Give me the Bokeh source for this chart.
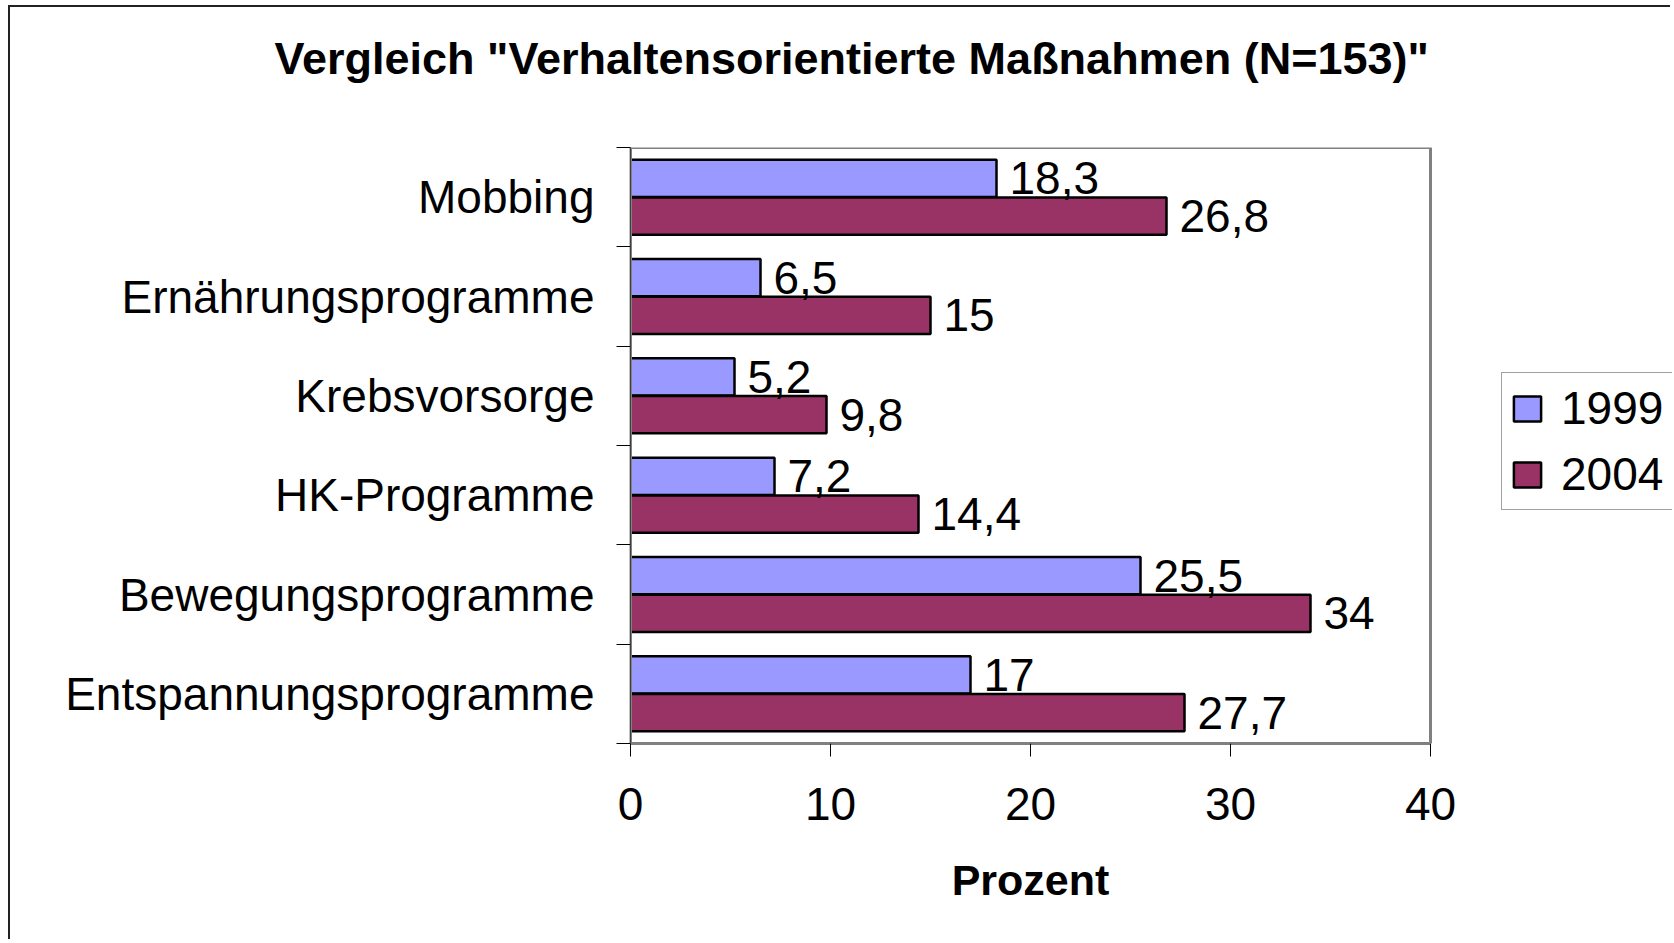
from bokeh.plotting import figure
from bokeh.models import (ColumnDataSource, Range1d, FixedTicker, LabelSet, Legend, LegendItem,
                          LinearAxis, BoxAnnotation)
from bokeh.core.properties import value
from bokeh.transform import dodge
from bokeh.embed import file_html
from bokeh.resources import INLINE

categories = ["Mobbing", "Ernährungsprogramme", "Krebsvorsorge", "HK-Programme",
              "Bewegungsprogramme", "Entspannungsprogramme"]
values_1999 = [18.3, 6.5, 5.2, 7.2, 25.5, 17]
values_2004 = [26.8, 15, 9.8, 14.4, 34, 27.7]
series_names = ["1999", "2004"]
x_ticks = [0, 10, 20, 30, 40]
x_title = "Prozent"

FONT = "Liberation Sans"
FS = "46px"
C1999 = "#9999FF"
C2004 = "#993366"

X_MAX = 40
PLOT_W = 800          # pixel width of the 0..40 plot area
W, H = 1662, 934
LEFT = 620
frame_w = W - LEFT
x_end = X_MAX * frame_w / PLOT_W   # frame extends to the right edge for the legend

pos = [i + 0.5 for i in range(len(categories))]
fmt = lambda v: f"{v:g}".replace(".", ",")
src = ColumnDataSource(dict(
    pos=pos, cat=categories,
    v1999=values_1999, v2004=values_2004,
    l1999=[fmt(v) for v in values_1999],
    l2004=[fmt(v) for v in values_2004],
))

p = figure(width=W, height=H, output_backend="svg", toolbar_location=None,
           x_range=Range1d(0, x_end), y_range=Range1d(len(categories), 0),
           min_border_left=LEFT, min_border_right=0, min_border_top=140,
           min_border_bottom=198)
p.styles = {"border-top": "2px solid #222", "border-left": "2px solid #222",
            "margin-left": "8px", "margin-top": "5px"}
p.background_fill_color = "white"
p.border_fill_color = "white"
p.outline_line_color = None
p.grid.visible = False

xa = p.xaxis[0]
ya = p.yaxis[0]

# grey plot-area box (0..40 x all categories)
p.add_layout(BoxAnnotation(left=0, right=X_MAX, top=0, bottom=len(categories),
                           fill_color=None, fill_alpha=0, line_color="#808080",
                           line_alpha=1, line_width=3))

# Title
p.title.text = 'Vergleich "Verhaltensorientierte Maßnahmen (N=153)"'
p.title.text_font = FONT
p.title.text_font_size = "45px"
p.title.text_font_style = "bold"
p.title.text_color = "black"
p.title.align = "left"
p.title.offset = -356
p.title.vertical_align = "bottom"
p.title.standoff = 0

off = 0.19
r1 = p.hbar(y=dodge("pos", -off, range=p.y_range), right="v1999", left=0, height=0.375,
            source=src, fill_color=C1999, line_color="black", line_width=2.5)
r2 = p.hbar(y=dodge("pos", off, range=p.y_range), right="v2004", left=0, height=0.375,
            source=src, fill_color=C2004, line_color="black", line_width=2.5)

for col, lab, d in (("v1999", "l1999", -off), ("v2004", "l2004", off)):
    ls = LabelSet(x=col, y=dodge("pos", d, range=p.y_range), text=lab, source=src,
                  x_offset=13, text_baseline="middle", text_align="left",
                  text_font=value(FONT), text_font_size=value(FS), text_color="black")
    p.add_layout(ls)

# x axis
xa.ticker = FixedTicker(ticks=x_ticks)
xa.bounds = (0, X_MAX)
xa.minor_tick_line_color = None
xa.major_tick_in = 0
xa.major_tick_out = 13
xa.major_tick_line_color = "black"
xa.axis_line_color = "#808080"
xa.axis_line_width = 3
xa.major_label_text_font = FONT
xa.major_label_text_font_size = FS
xa.major_label_text_color = "black"
xa.major_label_standoff = 31

# x-axis title, centred under the 0..40 plot area
xt = LinearAxis(ticker=FixedTicker(ticks=[X_MAX / 2]),
                major_label_overrides={X_MAX / 2: x_title},
                axis_line_color=None, major_tick_line_color=None, minor_tick_line_color=None,
                major_tick_in=0, major_tick_out=0, minor_tick_in=0, minor_tick_out=0,
                major_label_standoff=33, major_label_text_font=FONT,
                major_label_text_font_size="43px", major_label_text_font_style="bold",
                major_label_text_color="black")
p.add_layout(xt, "below")

# y axis (labels at centers, ticks at boundaries)
ya.ticker = FixedTicker(ticks=pos, minor_ticks=list(range(len(categories) + 1)))
ya.major_label_overrides = {pp: c for pp, c in zip(pos, categories)}
ya.major_tick_line_color = None
ya.major_tick_in = 0
ya.major_tick_out = 0
ya.minor_tick_line_color = "black"
ya.minor_tick_in = 0
ya.minor_tick_out = 14
ya.axis_line_color = "black"
ya.axis_line_width = 1.5
ya.major_label_text_font = FONT
ya.major_label_text_font_size = FS
ya.major_label_text_color = "black"
ya.major_label_standoff = 22

# invisible spacer above the frame pushes the title upward
spacer = LinearAxis(ticker=FixedTicker(ticks=[]), axis_line_color=None,
                    major_tick_line_color=None, minor_tick_line_color=None,
                    major_tick_in=0, major_tick_out=0, minor_tick_in=0, minor_tick_out=0,
                    major_label_standoff=0, major_label_text_font_size="0px",
                    axis_label=" ", axis_label_text_font_size="10px",
                    axis_label_text_color="white", axis_label_standoff=50)
p.add_layout(spacer, "above")

legend = Legend(items=[LegendItem(label=series_names[0], renderers=[r1]),
                       LegendItem(label=series_names[1], renderers=[r2])],
                location=(871, 233), orientation="vertical")
legend.margin = 0
legend.padding = 8
legend.spacing = 12
legend.glyph_width = 34
legend.glyph_height = 31
legend.label_standoff = 17
legend.label_width = 180
legend.label_text_font = FONT
legend.label_text_font_size = FS
legend.label_text_color = "black"
legend.border_line_color = "#444444"
legend.border_line_width = 1.5
legend.background_fill_color = "white"
legend.background_fill_alpha = 1
p.add_layout(legend, "center")

open("out.html", "w").write(file_html(p, INLINE))
